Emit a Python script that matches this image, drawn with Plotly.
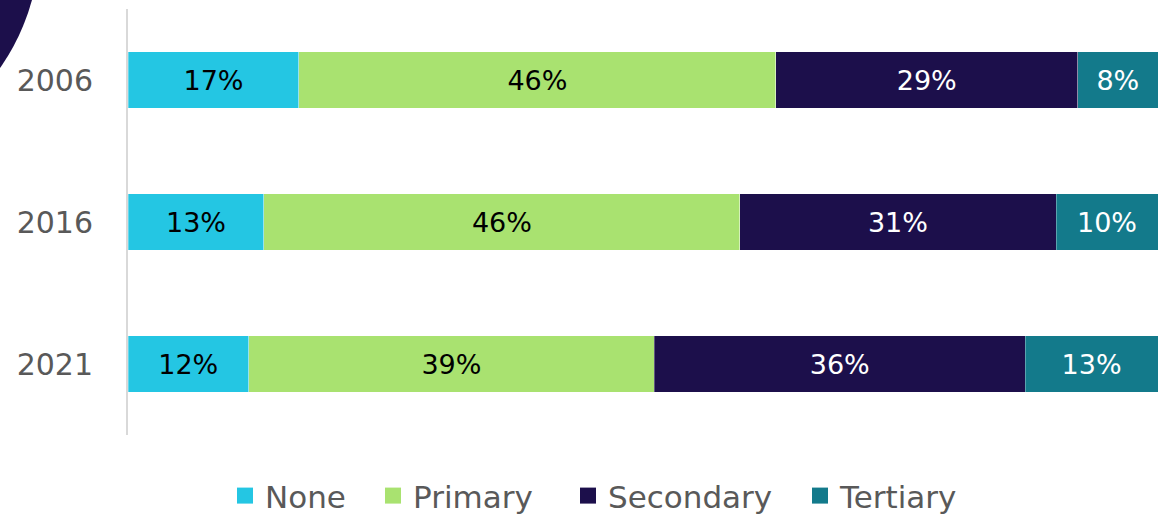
import plotly.graph_objects as go

years = ["2006", "2016", "2021"]
series_names = ["None", "Primary", "Secondary", "Tertiary"]
none_vals = [16.6, 13.2, 11.7]
primary_vals = [46.3, 46.2, 39.4]
secondary_vals = [29.3, 30.7, 36.0]
tertiary_vals = [7.8, 9.9, 12.9]
none_labels = ["17%", "13%", "12%"]
primary_labels = ["46%", "46%", "39%"]
secondary_labels = ["29%", "31%", "36%"]
tertiary_labels = ["8%", "10%", "13%"]

colors = ["#24C6E3", "#A9E270", "#1C0F4B", "#137A8B"]
text_colors = ["#000000", "#000000", "#FFFFFF", "#FFFFFF"]
all_vals = [none_vals, primary_vals, secondary_vals, tertiary_vals]
all_labels = [none_labels, primary_labels, secondary_labels, tertiary_labels]
legend_ids = ["legend", "legend2", "legend3", "legend4"]
legend_left_px = [225, 373, 568, 800]

FONT = "DejaVu Sans"
W, H = 1160, 515

fig = go.Figure()
for name, vals, labels, c, tc in zip(series_names, all_vals, all_labels, colors, text_colors):
    fig.add_trace(go.Bar(
        y=years, x=vals, name=name, orientation="h",
        marker=dict(color=c, line=dict(color="rgba(255,255,255,0.6)", width=0.5)),
        text=labels, texttemplate="%{text}", textposition="inside",
        insidetextanchor="middle", constraintext="none",
        textfont=dict(color=tc, size=27, family=FONT),
        width=0.4, showlegend=False, hoverinfo="x+y+name",
    ))
# legend entries (square swatches), each in its own legend box
for name, c, lid in zip(series_names, colors, legend_ids):
    fig.add_trace(go.Scatter(
        x=[None], y=[None], mode="markers", name=name,
        marker=dict(symbol="square", size=16, color=c),
        showlegend=True, legend=lid,
    ))

# decorative arc in top-left corner (pixel -> paper conversion)
L, R, T, B = 128, 1158, 9, 435
def px(xp):
    return (xp - L) / (R - L)
def py(yp):
    return (B - yp) / (B - T)
cx, cy, r = -182, -59, 222
fig.add_shape(type="circle", xref="paper", yref="paper",
              x0=px(cx - r), x1=px(cx + r), y0=py(cy + r), y1=py(cy - r),
              fillcolor="#1C0F4B", line=dict(width=0), layer="below")

legend_style = dict(orientation="h", xref="container", yref="container",
                    xanchor="left", y=0.037, yanchor="middle",
                    font=dict(size=31, color="#595959", family=FONT),
                    itemsizing="trace", bgcolor="rgba(0,0,0,0)")
layout_legends = {}
for lid, lx in zip(legend_ids, legend_left_px):
    layout_legends[lid] = dict(legend_style, x=lx / W)

fig.update_layout(
    barmode="stack",
    width=W, height=H,
    margin=dict(l=L, r=W - R, t=T, b=H - B, autoexpand=False),
    paper_bgcolor="white", plot_bgcolor="white",
    font=dict(family=FONT, color="#595959"),
    bargap=0.6,
    showlegend=True,
    uniformtext=dict(mode=False),
    **layout_legends,
)
fig.update_xaxes(range=[0, 100], visible=False, showgrid=False, zeroline=False)
fig.update_yaxes(categoryorder="array", categoryarray=years, autorange="reversed",
                 showline=True, linecolor="#D9D9D9", linewidth=2,
                 showgrid=False, ticks="", ticklabelstandoff=27,
                 tickfont=dict(size=30, color="#595959", family=FONT))

fig.write_html("out.html", config={"displayModeBar": False},
               post_script="document.body.style.margin='0';document.body.style.padding='0';")
